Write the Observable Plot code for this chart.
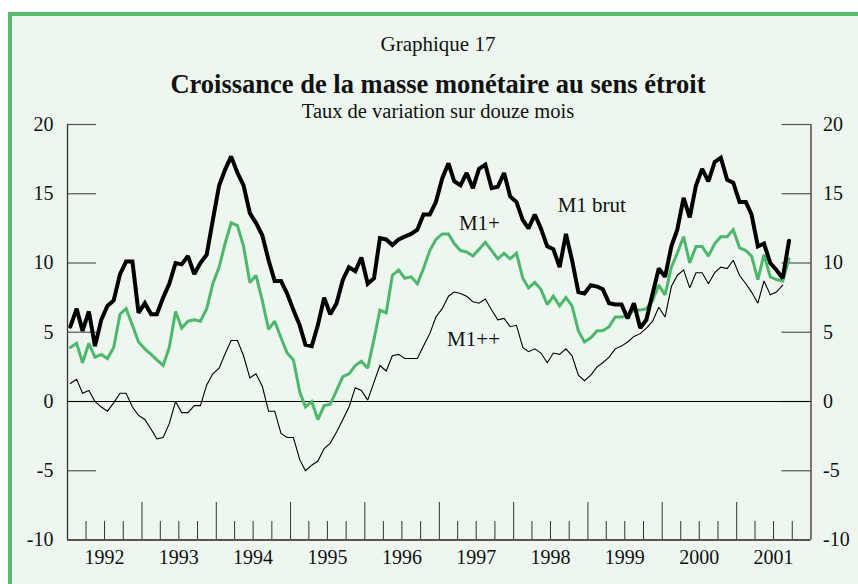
<!DOCTYPE html>
<html>
<head>
<meta charset="utf-8">
<script src="https://cdn.jsdelivr.net/npm/d3@7"></script>
<script src="https://cdn.jsdelivr.net/npm/@observablehq/plot@0.6"></script>
<style>
  html, body { margin: 0; padding: 0; background: #ffffff; width: 858px; height: 584px; overflow: hidden; }
  #panel { position: absolute; left: 8px; top: 12px; width: 900px; height: 620px;
           border-top: 4px solid #55bf70; border-left: 4px solid #55bf70; background: #edf7f0; }
  .t { position: absolute; left: 0; width: 876px; text-align: center; font-family: "Liberation Serif", "Times New Roman", serif; color: #111; line-height: 1; white-space: nowrap; }
  #chart { position: absolute; left: 0; top: 100px; }
</style>
</head>
<body>
<div id="panel"></div>
<div class="t" style="top:34px;font-size:21px;">Graphique 17</div>
<div class="t" style="top:71px;font-size:26.5px;font-weight:bold;">Croissance de la masse monétaire au sens étroit</div>
<div class="t" style="top:100.5px;font-size:20.5px;">Taux de variation sur douze mois</div>
<div id="chart"></div>
<script>
// Monthly data, January 1992 onwards (twelve-month growth rates, %)
const startYear = 1992;
const seriesNames = ["M1 brut", "M1+", "M1++"];

const m1Brut = [
  5.4, 6.7, 5.1, 6.5, 4.0, 5.9, 6.9, 7.3, 9.2, 10.1,
  10.1, 6.4, 7.1, 6.3, 6.3, 7.5, 8.5, 10.0, 9.9, 10.5,
  9.2, 10.0, 10.6, 13.1, 15.6, 16.8, 17.7, 16.5, 15.6, 13.6,
  12.9, 12.0, 10.2, 8.7, 8.7, 7.8, 6.6, 5.5, 4.1, 4.0,
  5.5, 7.5, 6.3, 7.1, 8.8, 9.7, 9.4, 10.4, 8.5, 8.9,
  11.8, 11.7, 11.3, 11.7, 11.9, 12.1, 12.4, 13.5, 13.5, 14.4,
  16.1, 17.2, 15.9, 15.6, 16.5, 15.4, 16.8, 17.1, 15.4, 15.5,
  16.5, 14.8, 14.4, 13.1, 12.5, 13.5, 12.5, 11.2, 11.0, 9.7,
  12.1, 10.2, 7.9, 7.8, 8.4, 8.3, 8.1, 7.1, 7.0, 7.0,
  6.0, 7.1, 5.3, 5.9, 7.8, 9.6, 9.0, 11.2, 12.4, 14.7,
  13.3, 15.6, 16.8, 15.9, 17.3, 17.6, 16.0, 15.8, 14.4, 14.4,
  13.5, 11.2, 11.4, 10.0, 9.5, 8.9, 11.6
];
const m1Plus = [
  3.9, 4.2, 2.8, 4.2, 3.2, 3.4, 3.1, 3.9, 6.3, 6.7,
  5.5, 4.3, 3.8, 3.4, 3.0, 2.6, 3.9, 6.5, 5.3, 5.8,
  5.9, 5.8, 6.7, 8.5, 9.7, 11.5, 12.9, 12.7, 11.2, 8.6,
  9.1, 7.3, 5.2, 5.8, 4.6, 3.5, 3.0, 0.7, -0.4, 0.0,
  -1.3, -0.3, -0.2, 0.8, 1.8, 2.0, 2.6, 2.9, 2.4, 4.5,
  6.6, 6.4, 9.1, 9.5, 8.9, 9.0, 8.5, 9.6, 10.9, 11.7,
  12.1, 12.1, 11.4, 10.9, 10.8, 10.5, 11.0, 11.5, 10.9, 10.3,
  10.7, 10.3, 10.7, 8.9, 8.2, 8.6, 8.1, 7.0, 7.6, 6.9,
  7.5, 6.9, 5.1, 4.3, 4.6, 5.1, 5.1, 5.4, 6.1, 6.1,
  6.2, 6.6, 6.6, 6.7, 7.3, 8.4, 7.7, 9.7, 10.7, 11.9,
  10.0, 11.2, 11.2, 10.5, 11.4, 11.9, 11.9, 12.4, 11.1, 10.9,
  10.5, 8.8, 10.6, 9.0, 8.8, 8.7, 10.3
];
const m1PlusPlus = [
  1.3, 1.6, 0.6, 0.8, 0.0, -0.4, -0.7, -0.1, 0.6, 0.6,
  -0.4, -1.0, -1.3, -2.0, -2.7, -2.6, -1.6, 0.0, -0.8, -0.8,
  -0.3, -0.3, 1.2, 2.0, 2.4, 3.5, 4.4, 4.4, 3.3, 1.7,
  2.0, 1.1, -0.7, -0.7, -2.3, -2.6, -2.6, -4.2, -5.0, -4.6,
  -4.3, -3.4, -3.0, -2.2, -1.3, -0.4, 1.0, 0.8, 0.1, 1.4,
  2.6, 2.2, 3.3, 3.4, 3.1, 3.1, 3.1, 4.0, 4.9, 6.1,
  6.7, 7.6, 7.9, 7.8, 7.6, 7.2, 7.1, 7.4, 6.6, 5.9,
  6.0, 5.4, 5.5, 3.9, 3.6, 3.8, 3.5, 2.8, 3.5, 3.4,
  3.8, 3.3, 1.9, 1.5, 1.9, 2.5, 2.8, 3.2, 3.8, 4.0,
  4.3, 4.7, 4.9, 5.3, 5.8, 6.8, 6.1, 8.3, 9.1, 9.5,
  8.2, 9.3, 9.3, 8.5, 9.3, 9.7, 9.6, 10.2, 9.1, 8.5,
  7.9, 7.1, 8.7, 7.7, 7.9, 8.4
];

const yTicks = [-10, -5, 0, 5, 10, 15, 20];
const yearLabels = ["1992", "1993", "1994", "1995", "1996", "1997", "1998", "1999", "2000", "2001"];
const labelTexts = ["M1 brut", "M1+", "M1++"];
const labelDates = ["1999-01-20", "1997-07-17", "1997-06-18"];
const labelValues = [14.2, 12.9, 4.5];

// ---- derived tables ----
const monthDate = i => new Date(Date.UTC(startYear, i, 15));
const toRows = (vals, name) => vals.map((v, i) => ({date: monthDate(i), value: v, series: name}));
const rowsBrut = toRows(m1Brut, seriesNames[0]);
const rowsPlus = toRows(m1Plus, seriesNames[1]);
const rowsPP = toRows(m1PlusPlus, seriesNames[2]);

const xStart = new Date(Date.UTC(+yearLabels[0], 0, 1));
const xEnd = new Date(Date.UTC(+yearLabels[yearLabels.length - 1] + 1, 0, 1));
const yearStarts = yearLabels.slice(1).map(y => new Date(Date.UTC(+y, 0, 1)));
const quarterTicks = yearLabels.flatMap(y => [3, 6, 9].map(m => new Date(Date.UTC(+y, m, 1))));
const yearMids = yearLabels.map(y => new Date(Date.UTC(+y, 6, 1)));
const labels = labelTexts.map((t, i) => ({text: t, date: new Date(labelDates[i]), value: labelValues[i]}));

const W = 858, H = 484;
const mL = 67, mR = 47.5, mT = 24, mB = 44.5;
const plotW = W - mL - mR, plotH = H - mT - mB;
const innerTick = 29;

const green = "#4db86c";
const axisColor = "#333";

const chart = Plot.plot({
  width: W,
  height: H,
  marginLeft: mL,
  marginRight: mR,
  marginTop: mT,
  marginBottom: mB,
  style: {background: "transparent", fontFamily: "Liberation Serif, Times New Roman, serif", fontSize: "20px", color: "#111", overflow: "visible"},
  x: {type: "utc", domain: [xStart, xEnd]},
  y: {domain: [-10, 20]},
  marks: [
    // inward ticks on left and right axes
    Plot.ruleY(yTicks.filter(d => d > -10), {y: d => d, insetRight: plotW - innerTick, stroke: "#555", strokeWidth: 1.2}),
    Plot.ruleY(yTicks.filter(d => d > -10), {y: d => d, insetLeft: plotW - innerTick, stroke: "#555", strokeWidth: 1.2}),
    // bottom ticks: quarters (short) and years (tall)
    Plot.ruleX(quarterTicks, {x: d => d, insetTop: plotH - 18.5, stroke: axisColor, strokeWidth: 1}),
    Plot.ruleX(yearStarts, {x: d => d, insetTop: plotH - 37.5, stroke: axisColor, strokeWidth: 1}),
    // zero line
    Plot.ruleY([0], {stroke: "#000", strokeWidth: 1.2}),
    // frame: left, right and bottom
    Plot.ruleX([xStart, xEnd], {stroke: axisColor, strokeWidth: 1.3}),
    Plot.ruleY([-10], {stroke: "#555", strokeWidth: 2}),
    // series
    Plot.line(rowsPP, {x: "date", y: "value", stroke: "#000", strokeWidth: 1.1, strokeLinejoin: "miter", strokeMiterlimit: 2}),
    Plot.line(rowsPlus, {x: "date", y: "value", stroke: green, strokeWidth: 3, strokeLinejoin: "miter", strokeMiterlimit: 2}),
    Plot.line(rowsBrut, {x: "date", y: "value", stroke: "#000", strokeWidth: 4, strokeLinejoin: "miter", strokeMiterlimit: 2}),
    // series labels
    Plot.text(labels, {x: "date", y: "value", text: "text", fontSize: 21, fill: "#111", textAnchor: "middle"}),
    // axes
    Plot.axisY(yTicks, {anchor: "left", tickSize: 0, tickPadding: 14, tickFormat: d => String(d), label: null, fill: "#111"}),
    Plot.axisY(yTicks, {anchor: "right", tickSize: 0, tickPadding: 12, tickFormat: d => String(d), label: null, fill: "#111"}),
    Plot.axisX(yearMids, {anchor: "bottom", tickSize: 0, tickPadding: 10, tickFormat: (d, i) => yearLabels[i], label: null, fill: "#111"})
  ]
});
document.getElementById("chart").appendChild(chart);
</script>
</body>
</html>
